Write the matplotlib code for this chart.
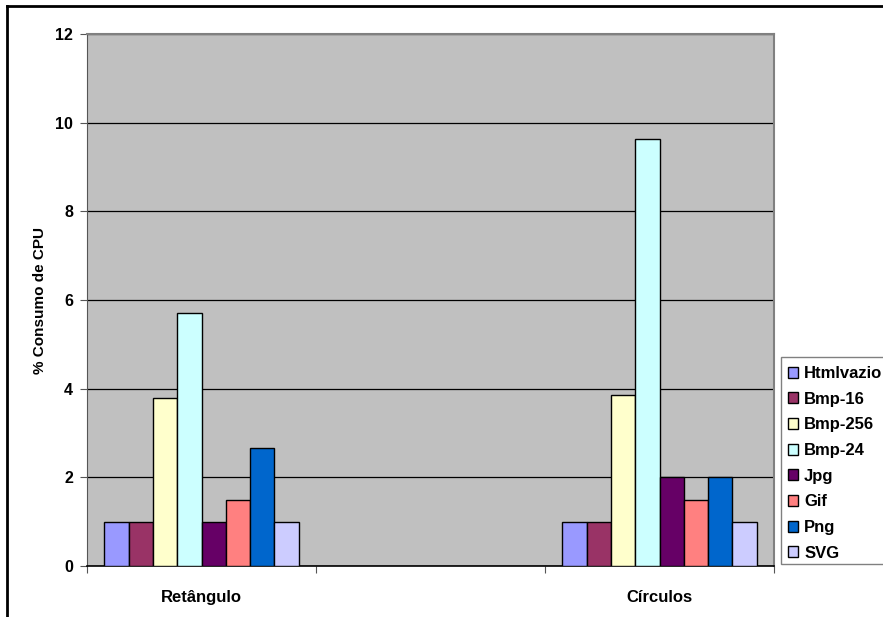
import matplotlib
matplotlib.use("Agg")
import matplotlib.pyplot as plt
import numpy as np
from matplotlib.patches import Rectangle
from matplotlib.lines import Line2D

plt.rcParams['font.family'] = ['Liberation Sans', 'DejaVu Sans']
plt.rcParams['font.weight'] = 'bold'

categories = ["Retângulo", "", "Círculos"]
series_names = ["Htmlvazio", "Bmp-16", "Bmp-256", "Bmp-24", "Jpg", "Gif", "Png", "SVG"]
colors = ["#9999FF", "#993366", "#FFFFCC", "#CCFFFF", "#660066", "#FF8080", "#0066CC", "#CCCCFF"]
# one row per series: values for Retângulo, (empty slot), Círculos
values = {
    "Htmlvazio": [1.0, np.nan, 1.0],
    "Bmp-16":    [1.0, np.nan, 1.0],
    "Bmp-256":   [3.78, np.nan, 3.86],
    "Bmp-24":    [5.71, np.nan, 9.64],
    "Jpg":       [1.0, np.nan, 2.0],
    "Gif":       [1.5, np.nan, 1.5],
    "Png":       [2.67, np.nan, 2.0],
    "SVG":       [1.0, np.nan, 1.0],
}
y_ticks = [0, 2, 4, 6, 8, 10, 12]

W, H = 883, 617
fig = plt.figure(figsize=(W / 100, H / 100), dpi=100)
fig.patch.set_facecolor("white")
ax = fig.add_axes([87 / W, 1 - 566 / H, (774 - 87) / W, (566 - 34) / H])
ax.set_facecolor("#C0C0C0")

n = len(series_names)
bar_w = 0.106
centers = np.arange(len(categories)) + 0.5
handles = []
for i, name in enumerate(series_names):
    x = centers + (i - (n - 1) / 2) * bar_w
    vals = np.array(values[name], dtype=float)
    mask = ~np.isnan(vals)
    b = ax.bar(x[mask], vals[mask], width=bar_w, color=colors[i],
               edgecolor="black", linewidth=1.0, zorder=3, label=name)
    handles.append(b)

ax.set_xlim(0, len(categories))
ax.set_ylim(0, 12)
ax.set_yticks(y_ticks)
ax.set_yticklabels([str(t) for t in y_ticks], fontsize=11.5, fontweight='bold')
ax.yaxis.grid(True, color="black", linewidth=0.9, zorder=1)
ax.set_axisbelow(True)

ax.set_xticks(np.arange(len(categories) + 1))
ax.set_xticklabels([])
ax.set_xticks(centers, minor=True)
ax.set_xticklabels(categories, minor=True, fontsize=12, fontweight='bold')
ax.tick_params(axis='x', which='minor', length=0, pad=17)
ax.tick_params(axis='x', which='major', length=5, direction='out', color='#555555')
ax.tick_params(axis='y', length=5, direction='out', color='#555555', pad=5)

for side in ["top", "right"]:
    ax.spines[side].set_color("#808080")
    ax.spines[side].set_linewidth(1.5)
ax.spines["left"].set_color("#555555")
ax.spines["bottom"].set_color("black")
ax.spines["bottom"].set_linewidth(1.2)

ax.set_ylabel("% Consumo de CPU", fontsize=11, fontweight='bold', labelpad=6)

# legend panel, running past the right edge of the figure
fig.add_artist(Rectangle((781 / W, 1 - 564 / H), (W - 781 + 10) / W, (564 - 357) / H,
                         transform=fig.transFigure, facecolor="white",
                         edgecolor="#808080", linewidth=1.0, zorder=5))
leg = fig.legend(handles=handles, labels=series_names, loc="upper left",
                 bbox_to_anchor=(773 / W, 1 - 351 / H), frameon=False,
                 prop={'size': 12, 'weight': 'bold'}, handlelength=0.62,
                 handleheight=0.62, handletextpad=0.35, labelspacing=0.64,
                 borderpad=0.4)
leg.set_zorder(6)

# outer chart frame
fig.add_artist(Line2D([7 / W, 7 / W], [0, 1 - 6 / H], transform=fig.transFigure,
                      color="black", linewidth=2))
fig.add_artist(Line2D([7 / W, 1], [1 - 6 / H, 1 - 6 / H], transform=fig.transFigure,
                      color="black", linewidth=2))

fig.savefig("out.png", dpi=100)
